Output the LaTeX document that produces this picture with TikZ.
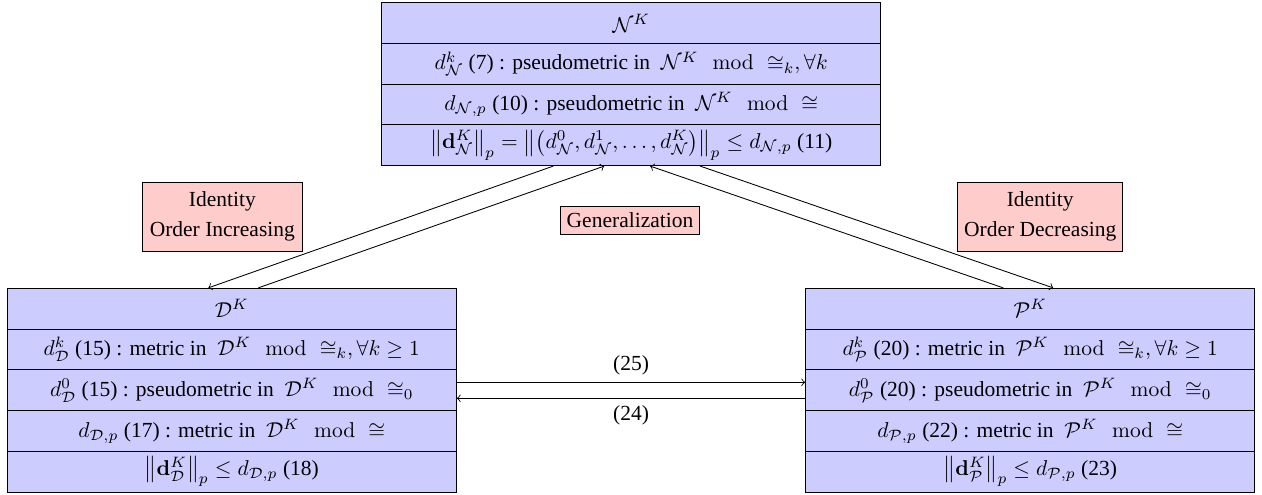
\documentclass[tikz,border=0pt]{standalone}
\usepackage{amsmath,amssymb}
\usepackage[no-math]{fontspec}
\setmainfont{Liberation Serif}
\usetikzlibrary{calc}
\definecolor{boxblue}{HTML}{CCCCFF}
\definecolor{boxpink}{HTML}{FFCCCC}
\begin{document}
\begin{tikzpicture}[x=0.465pt,y=-0.465pt,
  toprow/.style={draw, fill=boxblue, minimum width=232pt, minimum height=18.95pt, inner sep=0pt},
  siderow/.style={draw, fill=boxblue, minimum width=208.8pt, minimum height=18.97pt, inner sep=0pt},
  labelbox/.style={draw, fill=boxpink, align=center, inner sep=3pt},
  conn/.style={->}]
\useasboundingbox (0,0) rectangle (1262,495);

% top box
\node[toprow] (N1) at (631.2,23.05) {$\mathcal{N}^K$};
\node[toprow] (N2) at (631.2,63.8) {$d^k_{\mathcal{N}}$ (7) : pseudometric in \ $\mathcal{N}^K \mod{\cong_k}, \forall k$};
\node[toprow] (N3) at (631.2,104.55) {$d_{\mathcal{N},p}$ (10) : pseudometric in \ $\mathcal{N}^K \mod{\cong}$};
\node[toprow] (N4) at (631.2,145.3) {$\left\|\mathbf{d}^K_{\mathcal{N}}\right\|_p = \left\|\left(d^0_{\mathcal{N}}, d^1_{\mathcal{N}}, \dots, d^K_{\mathcal{N}}\right)\right\|_p \leq d_{\mathcal{N},p}$ (11)};

% left box
\node[siderow] (D1) at (231.8,308.7) {$\mathcal{D}^K$};
\node[siderow] (D2) at (231.8,349.5) {$d^k_{\mathcal{D}}$ (15) : metric in \ $\mathcal{D}^K \mod{\cong_k}, \forall k \geq 1$};
\node[siderow] (D3) at (231.8,390.3) {$d^0_{\mathcal{D}}$ (15) : pseudometric in \ $\mathcal{D}^K \mod{\cong_0}$};
\node[siderow] (D4) at (231.8,431.1) {$d_{\mathcal{D},p}$ (17) : metric in \ $\mathcal{D}^K \mod{\cong}$};
\node[siderow] (D5) at (231.8,471.9) {$\left\|\mathbf{d}^K_{\mathcal{D}}\right\|_p \leq d_{\mathcal{D},p}$ (18)};

% right box
\node[siderow] (P1) at (1030.2,308.7) {$\mathcal{P}^K$};
\node[siderow] (P2) at (1030.2,349.5) {$d^k_{\mathcal{P}}$ (20) : metric in \ $\mathcal{P}^K \mod{\cong_k}, \forall k \geq 1$};
\node[siderow] (P3) at (1030.2,390.3) {$d^0_{\mathcal{P}}$ (20) : pseudometric in \ $\mathcal{P}^K \mod{\cong_0}$};
\node[siderow] (P4) at (1030.2,431.1) {$d_{\mathcal{P},p}$ (22) : metric in \ $\mathcal{P}^K \mod{\cong}$};
\node[siderow] (P5) at (1030.2,471.9) {$\left\|\mathbf{d}^K_{\mathcal{P}}\right\|_p \leq d_{\mathcal{P},p}$ (23)};

% label boxes
\node[labelbox, minimum width=74.4pt, minimum height=31.9pt] (LI) at (222.3,216.7) {Identity\\[2pt]Order Increasing};
\node[labelbox, minimum width=76.7pt, minimum height=31.9pt] (LD) at (1040.2,216.7) {Identity\\[2pt]Order Decreasing};
\node[labelbox] (LG) at (630,220) {Generalization};

% connectors
\draw[conn] ($(N4.south)+(-78,0)$) -- ($(D1.north)+(-23.5,0)$);
\draw[conn] ($(D1.north)+(26.5,0)$) -- ($(N4.south)+(-27,0)$);
\draw[conn] ($(P1.north)+(-27,0)$) -- ($(N4.south)+(19,0)$);
\draw[conn] ($(N4.south)+(69,0)$) -- ($(P1.north)+(23,0)$);
\draw[conn] ([yshift=3.72pt]D3.east) -- node[above] {(25)} ([yshift=3.72pt]P3.west);
\draw[conn] ([yshift=-3.72pt]P3.west) -- node[below] {(24)} ([yshift=-3.72pt]D3.east);
\end{tikzpicture}
\end{document}
